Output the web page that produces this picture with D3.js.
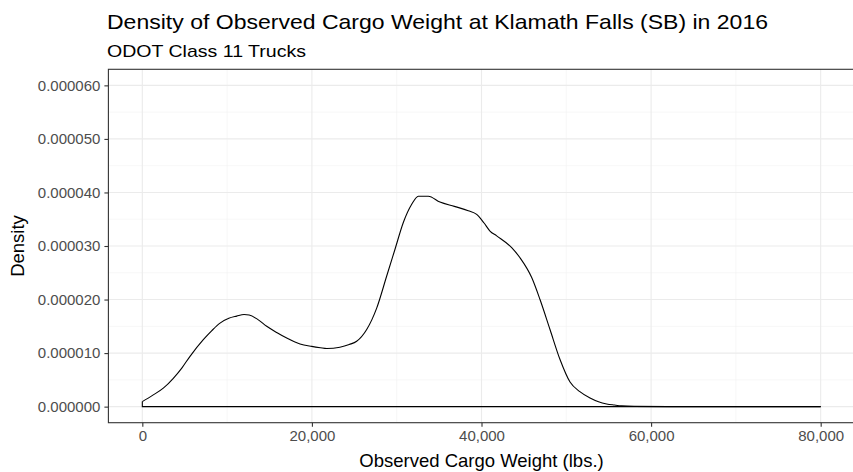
<!DOCTYPE html>
<html>
<head>
<meta charset="utf-8">
<script src="https://cdn.jsdelivr.net/npm/d3@7"></script>
<style>
  html, body { margin: 0; padding: 0; background: #fff; }
  svg { display: block; font-family: "Liberation Sans", Arial, sans-serif; }
</style>
</head>
<body>
<svg id="chart" width="853" height="472"></svg>
<script>
// Estimated kernel density of observed cargo weight (lbs.)
const weights = [0, 1200, 2476, 3655, 4700, 5625, 7193, 8200, 9163, 10200, 11130, 12000, 12600,
  13600, 14670, 15900, 17030, 18600, 19980, 21000, 21750, 23300, 24400, 25280, 26460, 27640,
  28820, 29800, 30780, 31770, 32550, 33730, 35100, 36800, 38440, 39430, 40300, 41000, 41790,
  43560, 44540, 45920, 46900, 48080, 49260, 50440, 51600, 52800, 53800, 54760, 55700, 56530,
  58000, 62000, 70000, 80000];
const density = [0.94e-6, 2.1e-6, 3.45e-6, 5.3e-6, 7.3e-6, 9.4e-6, 12.5e-6, 14.2e-6, 15.6e-6, 16.5e-6,
  16.9e-6, 17.2e-6, 17.1e-6, 16.3e-6, 15.0e-6, 13.8e-6, 12.8e-6, 11.7e-6, 11.25e-6, 11.0e-6, 10.85e-6,
  11.1e-6, 11.6e-6, 12.2e-6, 14.4e-6, 18.4e-6, 24.4e-6, 29.4e-6, 34.4e-6, 37.8e-6, 39.3e-6, 39.3e-6,
  38.2e-6, 37.4e-6, 36.6e-6, 35.9e-6, 34.3e-6, 32.8e-6, 31.9e-6, 29.7e-6, 27.8e-6, 24.1e-6, 20.0e-6,
  14.4e-6, 8.8e-6, 4.6e-6, 2.8e-6, 1.6e-6, 0.9e-6, 0.5e-6, 0.3e-6, 0.15e-6, 0.05e-6, 0, 0, 0];

const xTicks = [0, 20000, 40000, 60000, 80000];
const xMinor = [10000, 30000, 50000, 70000];
const yTicks = [0, 0.00001, 0.00002, 0.00003, 0.00004, 0.00005, 0.00006];
const yMinor = [0.000005, 0.000015, 0.000025, 0.000035, 0.000045, 0.000055];
const yLimits = [0, 0.00006];

const titleText = "Density of Observed Cargo Weight at Klamath Falls (SB) in 2016";
const subtitleText = "ODOT Class 11 Trucks";
const xTitle = "Observed Cargo Weight (lbs.)";
const yTitle = "Density";

const svg = d3.select("#chart");
const panel = { left: 108.4, top: 69.3, right: 854.6, bottom: 422.7 };

function expand(lo, hi) {
  const d = (hi - lo) * 0.05;
  return [lo - d, hi + d];
}

const x = d3.scaleLinear()
  .domain(expand(d3.min(weights), d3.max(weights)))
  .range([panel.left, panel.right]);
const y = d3.scaleLinear()
  .domain(expand(yLimits[0], yLimits[1]))
  .range([panel.bottom, panel.top]);

// panel background and grid
const g = svg.append("g");
g.append("rect")
  .attr("x", panel.left).attr("y", panel.top)
  .attr("width", panel.right - panel.left).attr("height", panel.bottom - panel.top)
  .attr("fill", "#fff");

g.selectAll(".xminor").data(xMinor).join("line")
  .attr("x1", d => x(d)).attr("x2", d => x(d))
  .attr("y1", panel.top).attr("y2", panel.bottom)
  .attr("stroke", "#F2F2F2").attr("stroke-width", 0.6);
g.selectAll(".yminor").data(yMinor).join("line")
  .attr("y1", d => y(d)).attr("y2", d => y(d))
  .attr("x1", panel.left).attr("x2", panel.right)
  .attr("stroke", "#F2F2F2").attr("stroke-width", 0.6);
g.selectAll(".xmajor").data(xTicks).join("line")
  .attr("x1", d => x(d)).attr("x2", d => x(d))
  .attr("y1", panel.top).attr("y2", panel.bottom)
  .attr("stroke", "#EBEBEB").attr("stroke-width", 1.1);
g.selectAll(".ymajor").data(yTicks).join("line")
  .attr("y1", d => y(d)).attr("y2", d => y(d))
  .attr("x1", panel.left).attr("x2", panel.right)
  .attr("stroke", "#EBEBEB").attr("stroke-width", 1.1);

// density outline, closed along the baseline
const pts = weights.map((w, i) => [w, density[i]]);
const outline = [[weights[0], 0], ...pts, [weights[weights.length - 1], 0]];
const line = d3.line().x(d => x(d[0])).y(d => y(d[1])).curve(d3.curveMonotoneX);
g.append("path")
  .attr("d", line(pts))
  .attr("fill", "none").attr("stroke", "#000").attr("stroke-width", 1.1);
g.append("path")
  .attr("d", d3.line().x(d => x(d[0])).y(d => y(d[1]))([outline[outline.length - 1], outline[0], outline[1]]))
  .attr("fill", "none").attr("stroke", "#000").attr("stroke-width", 1.1);

// panel border
g.append("rect")
  .attr("x", panel.left).attr("y", panel.top)
  .attr("width", panel.right - panel.left).attr("height", panel.bottom - panel.top)
  .attr("fill", "none").attr("stroke", "#333").attr("stroke-width", 1.1);

// axes
const xAxis = d3.axisBottom(x).tickValues(xTicks).tickSize(4).tickPadding(4)
  .tickFormat(d3.format(",.0f"));
const yAxis = d3.axisLeft(y).tickValues(yTicks).tickSize(4).tickPadding(4)
  .tickFormat(d3.format(".6f"));

const gx = svg.append("g").attr("transform", `translate(0,${panel.bottom})`).call(xAxis);
const gy = svg.append("g").attr("transform", `translate(${panel.left},0)`).call(yAxis);
[gx, gy].forEach(a => {
  a.select(".domain").remove();
  a.selectAll(".tick line").attr("stroke", "#333").attr("stroke-width", 1.1);
  a.selectAll(".tick text").attr("fill", "#4D4D4D")
    .style("font-size", "15px").style("font-family", "'Liberation Sans', Arial, sans-serif");
});

// titles
svg.append("text").attr("x", 107).attr("y", 29.3)
  .attr("textLength", 661).attr("lengthAdjust", "spacingAndGlyphs")
  .style("font-size", "21px").attr("fill", "#000").text(titleText);
svg.append("text").attr("x", 107).attr("y", 56.7)
  .attr("textLength", 199).attr("lengthAdjust", "spacingAndGlyphs")
  .style("font-size", "17px").attr("fill", "#000").text(subtitleText);
svg.append("text").attr("x", (panel.left + panel.right) / 2).attr("y", 467)
  .attr("text-anchor", "middle").style("font-size", "18.5px").attr("fill", "#000").text(xTitle);
svg.append("text")
  .attr("transform", `translate(24,${(panel.top + panel.bottom) / 2}) rotate(-90)`)
  .attr("text-anchor", "middle").style("font-size", "18.5px").attr("fill", "#000").text(yTitle);
</script>
</body>
</html>
